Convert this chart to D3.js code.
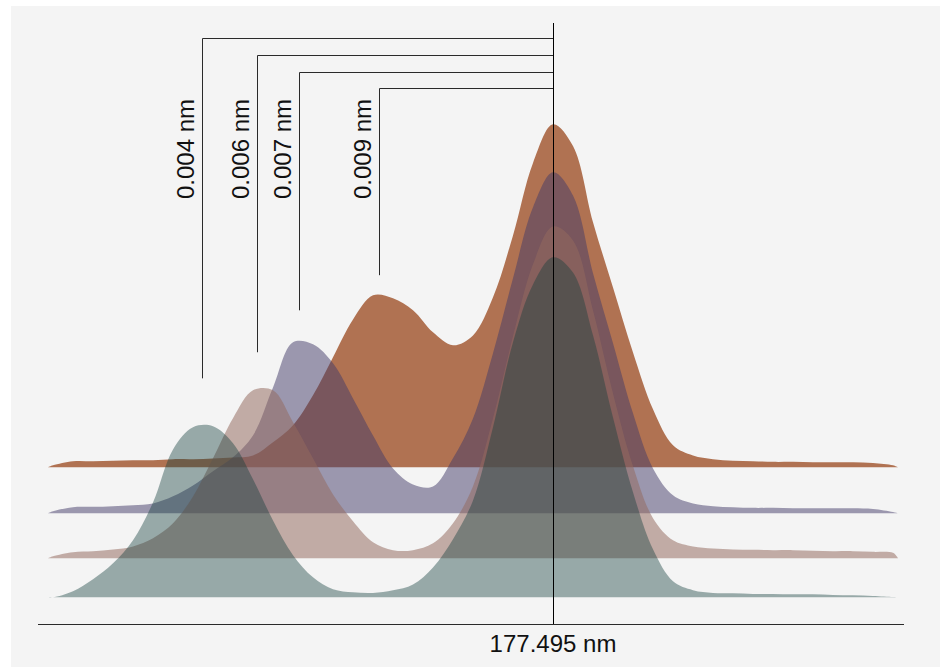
<!DOCTYPE html>
<html>
<head>
<meta charset="utf-8">
<script src="https://cdn.jsdelivr.net/npm/d3@7/dist/d3.min.js"></script>
<style>
  html, body { margin: 0; padding: 0; background: #ffffff; }
  svg { display: block; }
  text { font-family: "Liberation Sans", Arial, Helvetica, sans-serif; }
</style>
</head>
<body>
<svg id="chart" width="946" height="667"></svg>
<script>
// ---- data ----
const wavelengths = [177.4849, 177.4850, 177.4854, 177.4858, 177.4862, 177.4866, 177.4870, 177.4874, 177.4878, 177.4882,
  177.4886, 177.4890, 177.4894, 177.4898, 177.4902, 177.4906, 177.4910, 177.4914, 177.4918, 177.4922,
  177.4926, 177.4930, 177.4934, 177.4938, 177.4942, 177.4946, 177.4950, 177.4954, 177.4958, 177.4962,
  177.4966, 177.4970, 177.4974, 177.4978, 177.4982, 177.4986, 177.4990, 177.4994, 177.4998, 177.5002,
  177.5006, 177.5010, 177.5014, 177.5018, 177.5019];

// relative intensity (% of main peak), back ridge to front ridge
const seriesOrange = [0, 0.6, 1.8, 1.8, 1.9, 2.1, 2.1, 2.4, 2.4, 2.6, 2.9, 3.5, 7.4, 12.4, 21.2, 32.4, 43.5, 50.6, 49.7, 46.2,
  39.7, 35.9, 38.8, 50.0, 68.2, 89.5, 100.9, 94.5, 72.1, 52.9, 33.8, 17.1, 6.5, 3.5, 2.4, 1.9, 1.8, 1.6, 1.6, 1.5,
  1.5, 1.5, 1.3, 0.6, 0];
const seriesPurple = [0, 0.6, 1.8, 1.9, 2.1, 2.4, 2.9, 5.0, 8.2, 12.4, 16.5, 22.9, 37.0, 50.3, 49.7, 44.1, 33.8, 22.9, 13.2, 8.5,
  7.9, 16.2, 27.9, 47.1, 69.1, 90.0, 100.3, 93.5, 70.6, 50.0, 29.4, 13.2, 5.3, 2.9, 2.1, 1.8, 1.6, 1.6, 1.5, 1.5,
  1.5, 1.5, 1.3, 0.4, 0];
const seriesPink = [0, 0.6, 1.8, 2.1, 2.6, 3.5, 5.9, 10.3, 18.2, 29.4, 41.2, 49.4, 49.4, 40.0, 29.4, 18.8, 10.9, 4.7, 2.4, 2.4,
  4.4, 10.3, 21.2, 41.2, 65.3, 86.5, 97.6, 93.5, 72.9, 48.5, 27.1, 11.8, 5.3, 3.5, 2.9, 2.6, 2.5, 2.4, 2.4, 2.2,
  2.1, 2.1, 1.9, 1.6, 0];
const seriesTeal = [0, 0, 1.8, 5.3, 10.0, 16.8, 27.9, 43.5, 50.0, 50.3, 45.3, 34.7, 22.6, 12.4, 5.9, 2.4, 1.5, 1.3, 2.1, 3.8,
  8.8, 17.1, 28.5, 50.0, 75.0, 92.0, 100.0, 95.5, 77.1, 52.9, 30.9, 14.1, 4.7, 2.1, 1.3, 1.2, 1.0, 1.0, 0.9, 0.9,
  0.7, 0.6, 0.4, 0.1, 0];

const centerWavelength = 177.495;
const centerLabel = "177.495 nm";

// secondary-peak annotations (front ridge first)
const annoLabels = ["0.004 nm", "0.006 nm", "0.007 nm", "0.009 nm"];
const annoWavelengths = [177.48798, 177.48908, 177.48992, 177.49152];
const annoLevels = [64.4, 60.6, 59.7, 56.5];   // intensity (%) where each leader ends
const annoSeries = [3, 2, 1, 0];               // which ridge each belongs to

// ---- layout / style ----
const ridges = [
  { values: seriesOrange, base: 467.3, fill: "rgb(176,114,82)", opacity: 1.0 },
  { values: seriesPurple, base: 513.3, fill: "rgb(66,58,104)",  opacity: 0.5 },
  { values: seriesPink,   base: 558.3, fill: "rgb(148,106,95)", opacity: 0.53 },
  { values: seriesTeal,   base: 597.3, fill: "rgb(20,63,61)",   opacity: 0.41 }
];

const svg = d3.select("#chart");

svg.append("rect").attr("x", 11).attr("y", 6).attr("width", 929).attr("height", 661).attr("fill", "#f4f4f4");

const x = d3.scaleLinear().domain([d3.min(wavelengths), d3.max(wavelengths)]).range([48, 898]);
const h = d3.scaleLinear().domain([0, 100]).range([0, 340]);

ridges.forEach(r => {
  const pts = wavelengths.map((w, i) => [w, r.values[i]]);
  const area = d3.area()
    .x(d => x(d[0]))
    .y0(r.base)
    .y1(d => Math.min(r.base, r.base - h(d[1])))
    .curve(d3.curveCatmullRom.alpha(0.5));
  svg.append("path")
    .attr("d", area(pts))
    .attr("fill", r.fill)
    .attr("fill-opacity", r.opacity);
});

const cx = Math.round(x(centerWavelength)) + 0.5;

// annotation leaders
annoLabels.forEach((lab, i) => {
  const lx = Math.round(x(annoWavelengths[i])) + 0.5;
  const topY = Math.round(38 + i * 16.8) + 0.5;
  const r = ridges[annoSeries[i]];
  const botY = r.base - h(annoLevels[i]);
  svg.append("path")
    .attr("d", `M${lx},${botY}V${topY}H${cx}`)
    .attr("fill", "none")
    .attr("stroke", "#2a2a2a")
    .attr("stroke-width", 1);
  svg.append("text")
    .attr("transform", `translate(${lx - 9},149) rotate(-90)`)
    .attr("text-anchor", "middle")
    .attr("font-size", 24)
    .attr("fill", "#111")
    .text(lab);
});

// center line
svg.append("line")
  .attr("x1", cx).attr("x2", cx)
  .attr("y1", 23).attr("y2", 624)
  .attr("stroke", "#000").attr("stroke-width", 1);

// x axis
svg.append("line")
  .attr("x1", 38).attr("x2", 904)
  .attr("y1", 624.5).attr("y2", 624.5)
  .attr("stroke", "#2a2a2a").attr("stroke-width", 1.2);

svg.append("text")
  .attr("x", x(centerWavelength))
  .attr("y", 652)
  .attr("text-anchor", "middle")
  .attr("font-size", 24)
  .attr("fill", "#111")
  .text(centerLabel);
</script>
</body>
</html>
